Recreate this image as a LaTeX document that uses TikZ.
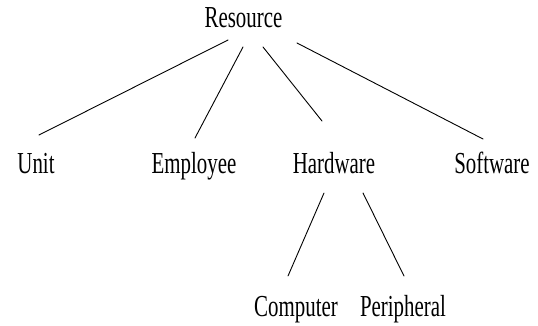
\documentclass[tikz,border=0pt]{standalone}
\usepackage{fontspec}
\setmainfont{Liberation Serif}[FakeStretch=0.685]
\begin{document}
\begin{tikzpicture}[x=1pt,y=-1pt,
  label/.style={anchor=base,inner sep=0pt,font=\fontsize{30.5}{32}\selectfont},
  edge/.style={line width=0.9pt,line cap=round}]
\useasboundingbox (0,0) rectangle (538,326);
% tree labels, placed by their baselines
\node[label] (res)  at (243.5,27.5) {Resource};
\node[label] (unit) at (36,173)  {Unit};
\node[label] (emp)  at (194,173) {Employee};
\node[label] (hw)   at (334,173) {Hardware};
\node[label] (sw)   at (492,173) {Software};
\node[label] (comp) at (296,316) {Computer};
\node[label] (per)  at (403,316) {Peripheral};
% branches of the tree
\draw[edge] ([shift={(-15.5,12.5)}]res.base) -- ([shift={(3,-38)}]unit.base);
\draw[edge] ([shift={(-0.5,19.5)}]res.base)  -- ([shift={(1,-35)}]emp.base);
\draw[edge] ([shift={(19.5,19.5)}]res.base)  -- ([shift={(-12,-52)}]hw.base);
\draw[edge] ([shift={(53.5,15.5)}]res.base)  -- ([shift={(-9,-34)}]sw.base);
\draw[edge] ([shift={(-10,20)}]hw.base)  -- ([shift={(-8,-40)}]comp.base);
\draw[edge] ([shift={(29,20)}]hw.base)   -- ([shift={(1,-40)}]per.base);
\end{tikzpicture}
\end{document}
